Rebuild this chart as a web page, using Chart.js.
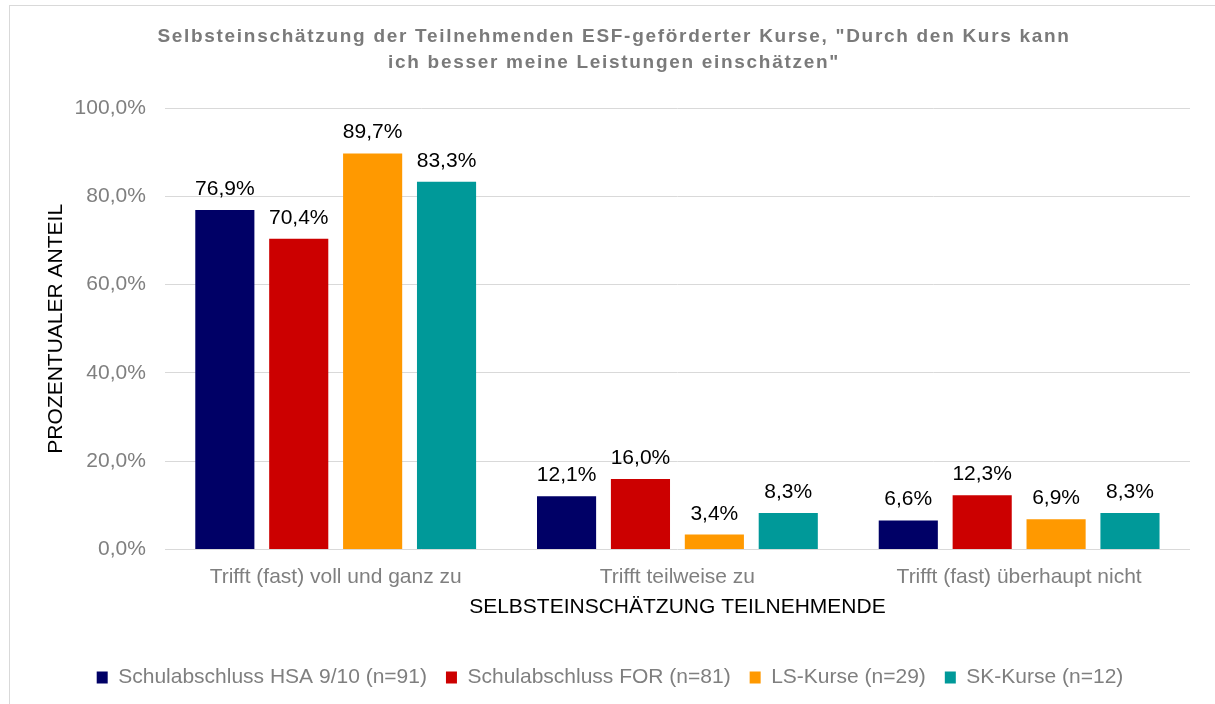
<!DOCTYPE html>
<html>
<head>
<meta charset="utf-8">
<script src="https://cdn.jsdelivr.net/npm/chart.js@4/dist/chart.umd.min.js"></script>
<style>
  html, body { margin: 0; padding: 0; background: #fff; }
  #wrap { position: relative; width: 1215px; height: 704px; overflow: hidden; }
  #frame { position: absolute; left: 9px; top: 5px; width: 1220px; height: 720px; border: 1px solid #d9d9d9; box-sizing: border-box; }
  #c { position: absolute; left: 0; top: 0; }
</style>
</head>
<body>
<div id="wrap">
  <div id="frame"></div>
  <canvas id="c" width="1215" height="704"></canvas>
</div>
<script>
const categories = ["Trifft (fast) voll und ganz zu", "Trifft teilweise zu", "Trifft (fast) überhaupt nicht"];
const seriesNames = ["Schulabschluss HSA 9/10 (n=91)", "Schulabschluss FOR (n=81)", "LS-Kurse (n=29)", "SK-Kurse (n=12)"];
const hsaValues = [76.9, 12.1, 6.6];
const forValues = [70.4, 16.0, 12.3];
const lsValues = [89.7, 3.4, 6.9];
const skValues = [83.3, 8.3, 8.3];
const seriesColors = ["#000066", "#CC0000", "#FF9900", "#009999"];
const yTicks = [0, 20, 40, 60, 80, 100];
const titleLines = ["Selbsteinschätzung der Teilnehmenden ESF-geförderter Kurse, \"Durch den Kurs kann", "ich besser meine Leistungen einschätzen\""];
const yTitle = "PROZENTUALER ANTEIL";
const xTitle = "SELBSTEINSCHÄTZUNG TEILNEHMENDE";

const FONT = "'Liberation Sans', Arial, sans-serif";
const fmt = v => v.toFixed(1).replace('.', ',') + '%';

const labelPlugin = {
  id: 'barLabels',
  afterDatasetsDraw(chart) {
    const ctx = chart.ctx;
    ctx.save();
    ctx.font = "21px " + FONT;
    ctx.fillStyle = "#000000";
    ctx.textAlign = "center";
    ctx.textBaseline = "alphabetic";
    chart.data.datasets.forEach((ds, i) => {
      const meta = chart.getDatasetMeta(i);
      meta.data.forEach((el, j) => {
        ctx.fillText(fmt(ds.data[j]), el.x, el.y - 15);
      });
    });
    ctx.restore();
  }
};

const titlePlugin = {
  id: 'spacedTitle',
  afterDraw(chart) {
    const ctx = chart.ctx;
    ctx.save();
    ctx.font = "bold 19px " + FONT;
    ctx.fillStyle = "#7a7a7a";
    ctx.textAlign = "center";
    ctx.textBaseline = "alphabetic";
    ctx.letterSpacing = "1.7px";
    titleLines.forEach((line, i) => {
      ctx.fillText(line, 614, 42 + i * 26);
    });
    ctx.restore();
  }
};

const allSeries = [hsaValues, forValues, lsValues, skValues];

new Chart(document.getElementById('c'), {
  type: 'bar',
  data: {
    labels: categories,
    datasets: allSeries.map((vals, i) => ({
      label: seriesNames[i],
      data: vals,
      backgroundColor: seriesColors[i],
      borderWidth: 0,
      barPercentage: 0.8,
      categoryPercentage: 0.865
    }))
  },
  options: {
    responsive: false,
    animation: false,
    devicePixelRatio: 1,
    layout: { padding: { left: 30, right: 25, top: 108, bottom: 6 } },
    plugins: {
      tooltip: { enabled: false },
      title: { display: false },
      legend: {
        position: 'bottom',
        labels: {
          color: "#7f7f7f",
          font: { family: FONT, size: 21 },
          boxWidth: 11,
          boxHeight: 12,
          padding: 19
        }
      }
    },
    scales: {
      x: {
        grid: { display: false, drawTicks: false },
        border: { display: false },
        ticks: { color: "#7f7f7f", font: { family: FONT, size: 21 }, padding: 15 },
        title: { display: true, text: xTitle, color: "#000000", font: { family: FONT, size: 21 }, padding: { top: -10, bottom: 28 } }
      },
      y: {
        min: 0,
        max: 100,
        afterBuildTicks(axis) { axis.ticks = yTicks.map(v => ({ value: v })); },
        grid: { color: "#d9d9d9", lineWidth: 1, drawTicks: false },
        border: { display: false },
        ticks: { color: "#7f7f7f", font: { family: FONT, size: 21 }, padding: 19, callback: v => fmt(v) },
        title: { display: true, text: yTitle, color: "#000000", font: { family: FONT, size: 21 }, padding: { top: 14, bottom: -13.6 } }
      }
    }
  },
  plugins: [labelPlugin, titlePlugin]
});
</script>
</body>
</html>
